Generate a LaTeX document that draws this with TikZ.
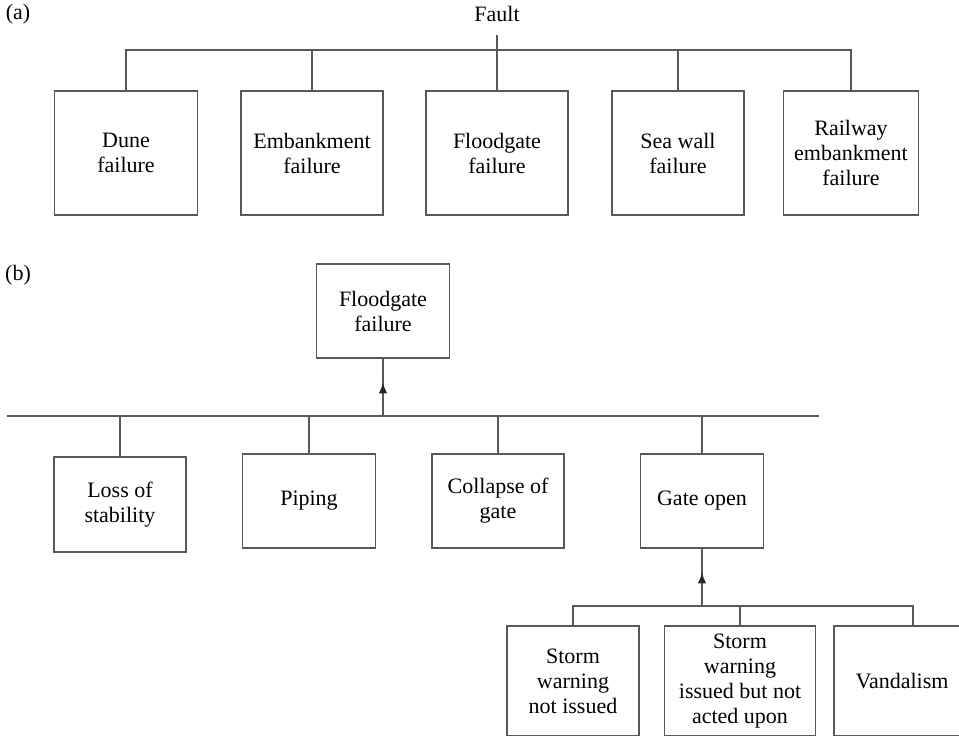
\documentclass[tikz,border=0pt]{standalone}
\usepackage{fontspec}
\setmainfont{Liberation Serif}
\usetikzlibrary{arrows.meta,decorations.markings}
\tikzset{
	link/.style={draw=black!65, line width=1.8pt},
	box/.style={draw=black!65, line width=1.8pt, minimum width=#1, minimum height=94pt, inner sep=2pt, align=center, font=\fontsize{22}{25}\selectfont},
	box/.default=132pt,
	tag/.style={inner sep=0pt, font=\fontsize{22}{25}\selectfont},
	uparrow/.style={link, postaction={decorate}, decoration={markings, mark=at position 0.59 with {\arrow[black!85]{Latex[length=11pt,width=8.5pt]}}}}
}

\begin{document}
\begin{tikzpicture}[x=1pt, y=-1pt]
			%%%%% START %%%%%
			
			\useasboundingbox (0,0) rectangle (959,737);
			\clip (0,0) rectangle (959,735.5);
			
			%%%%% (a) %%%%%
			\node[tag] (taga) at (18,14) {(a)};
			\node[tag, inner ysep=13pt] (fault) at (497,14) {Fault};
			
			\node[box=143pt, minimum height=124pt] (dune) at (126,153) {Dune\\failure};
			\node[box=142pt, minimum height=124pt] (emb) at (312,153) {Embankment\\failure};
			\node[box=142pt, minimum height=124pt] (fgate) at (497,153) {Floodgate\\failure};
			\node[box=132pt, minimum height=124pt] (sea) at (678,153) {Sea wall\\failure};
			\node[box=135pt, minimum height=124pt] (rail) at (851,153) {Railway\\embankment\\failure};
			
			\coordinate (abar) at (0,50);
			\draw[link] (dune.north) -- (dune.north |- abar) -- (rail.north |- abar) -- (rail.north);
			\draw[link] (emb.north) -- (emb.north |- abar);
			\draw[link] (sea.north) -- (sea.north |- abar);
			\draw[link] (fault.south) -- (fgate.north);
			
			%%%%% (b) %%%%%
			\node[tag] (tagb) at (18,275) {(b)};
			\node[box=133pt] (top) at (383,311) {Floodgate\\failure};
			
			\node[box=132pt, minimum height=95pt] (loss) at (120,504.5) {Loss of\\stability};
			\node[box=133pt] (pipe) at (309,501) {Piping};
			\node[box=132pt] (coll) at (498,501) {Collapse of\\gate};
			\node[box=123pt] (gate) at (702,501) {Gate open};
			
			\coordinate (bbarL) at (7,416);
			\coordinate (bbarR) at (819,416);
			\draw[link] (bbarL) -- (bbarR);
			\foreach \n in {loss,pipe,coll,gate}
				\draw[link] (\n.north) -- (\n.north |- bbarL);
			\draw[uparrow] (top.south |- bbarL) -- (top.south);
			
			\node[box=132pt, minimum height=110pt] (swno) at (573,681) {Storm\\warning\\not issued};
			\node[box=151pt, minimum height=110pt] (swyes) at (740,681) {Storm\\warning\\issued but not\\acted upon};
			\node[box=136pt, minimum height=110pt] (vand) at (902,681) {Vandalism};
			
			\coordinate (cbar) at (913,606);
			\draw[link] (swno.north) -- (swno.north |- cbar) -- (cbar) -- (cbar |- vand.north);
			\draw[link] (swyes.north) -- (swyes.north |- cbar);
			\draw[uparrow] (gate.south |- cbar) -- (gate.south);
			
			%%%%% END %%%%%
\end{tikzpicture}
\end{document}
